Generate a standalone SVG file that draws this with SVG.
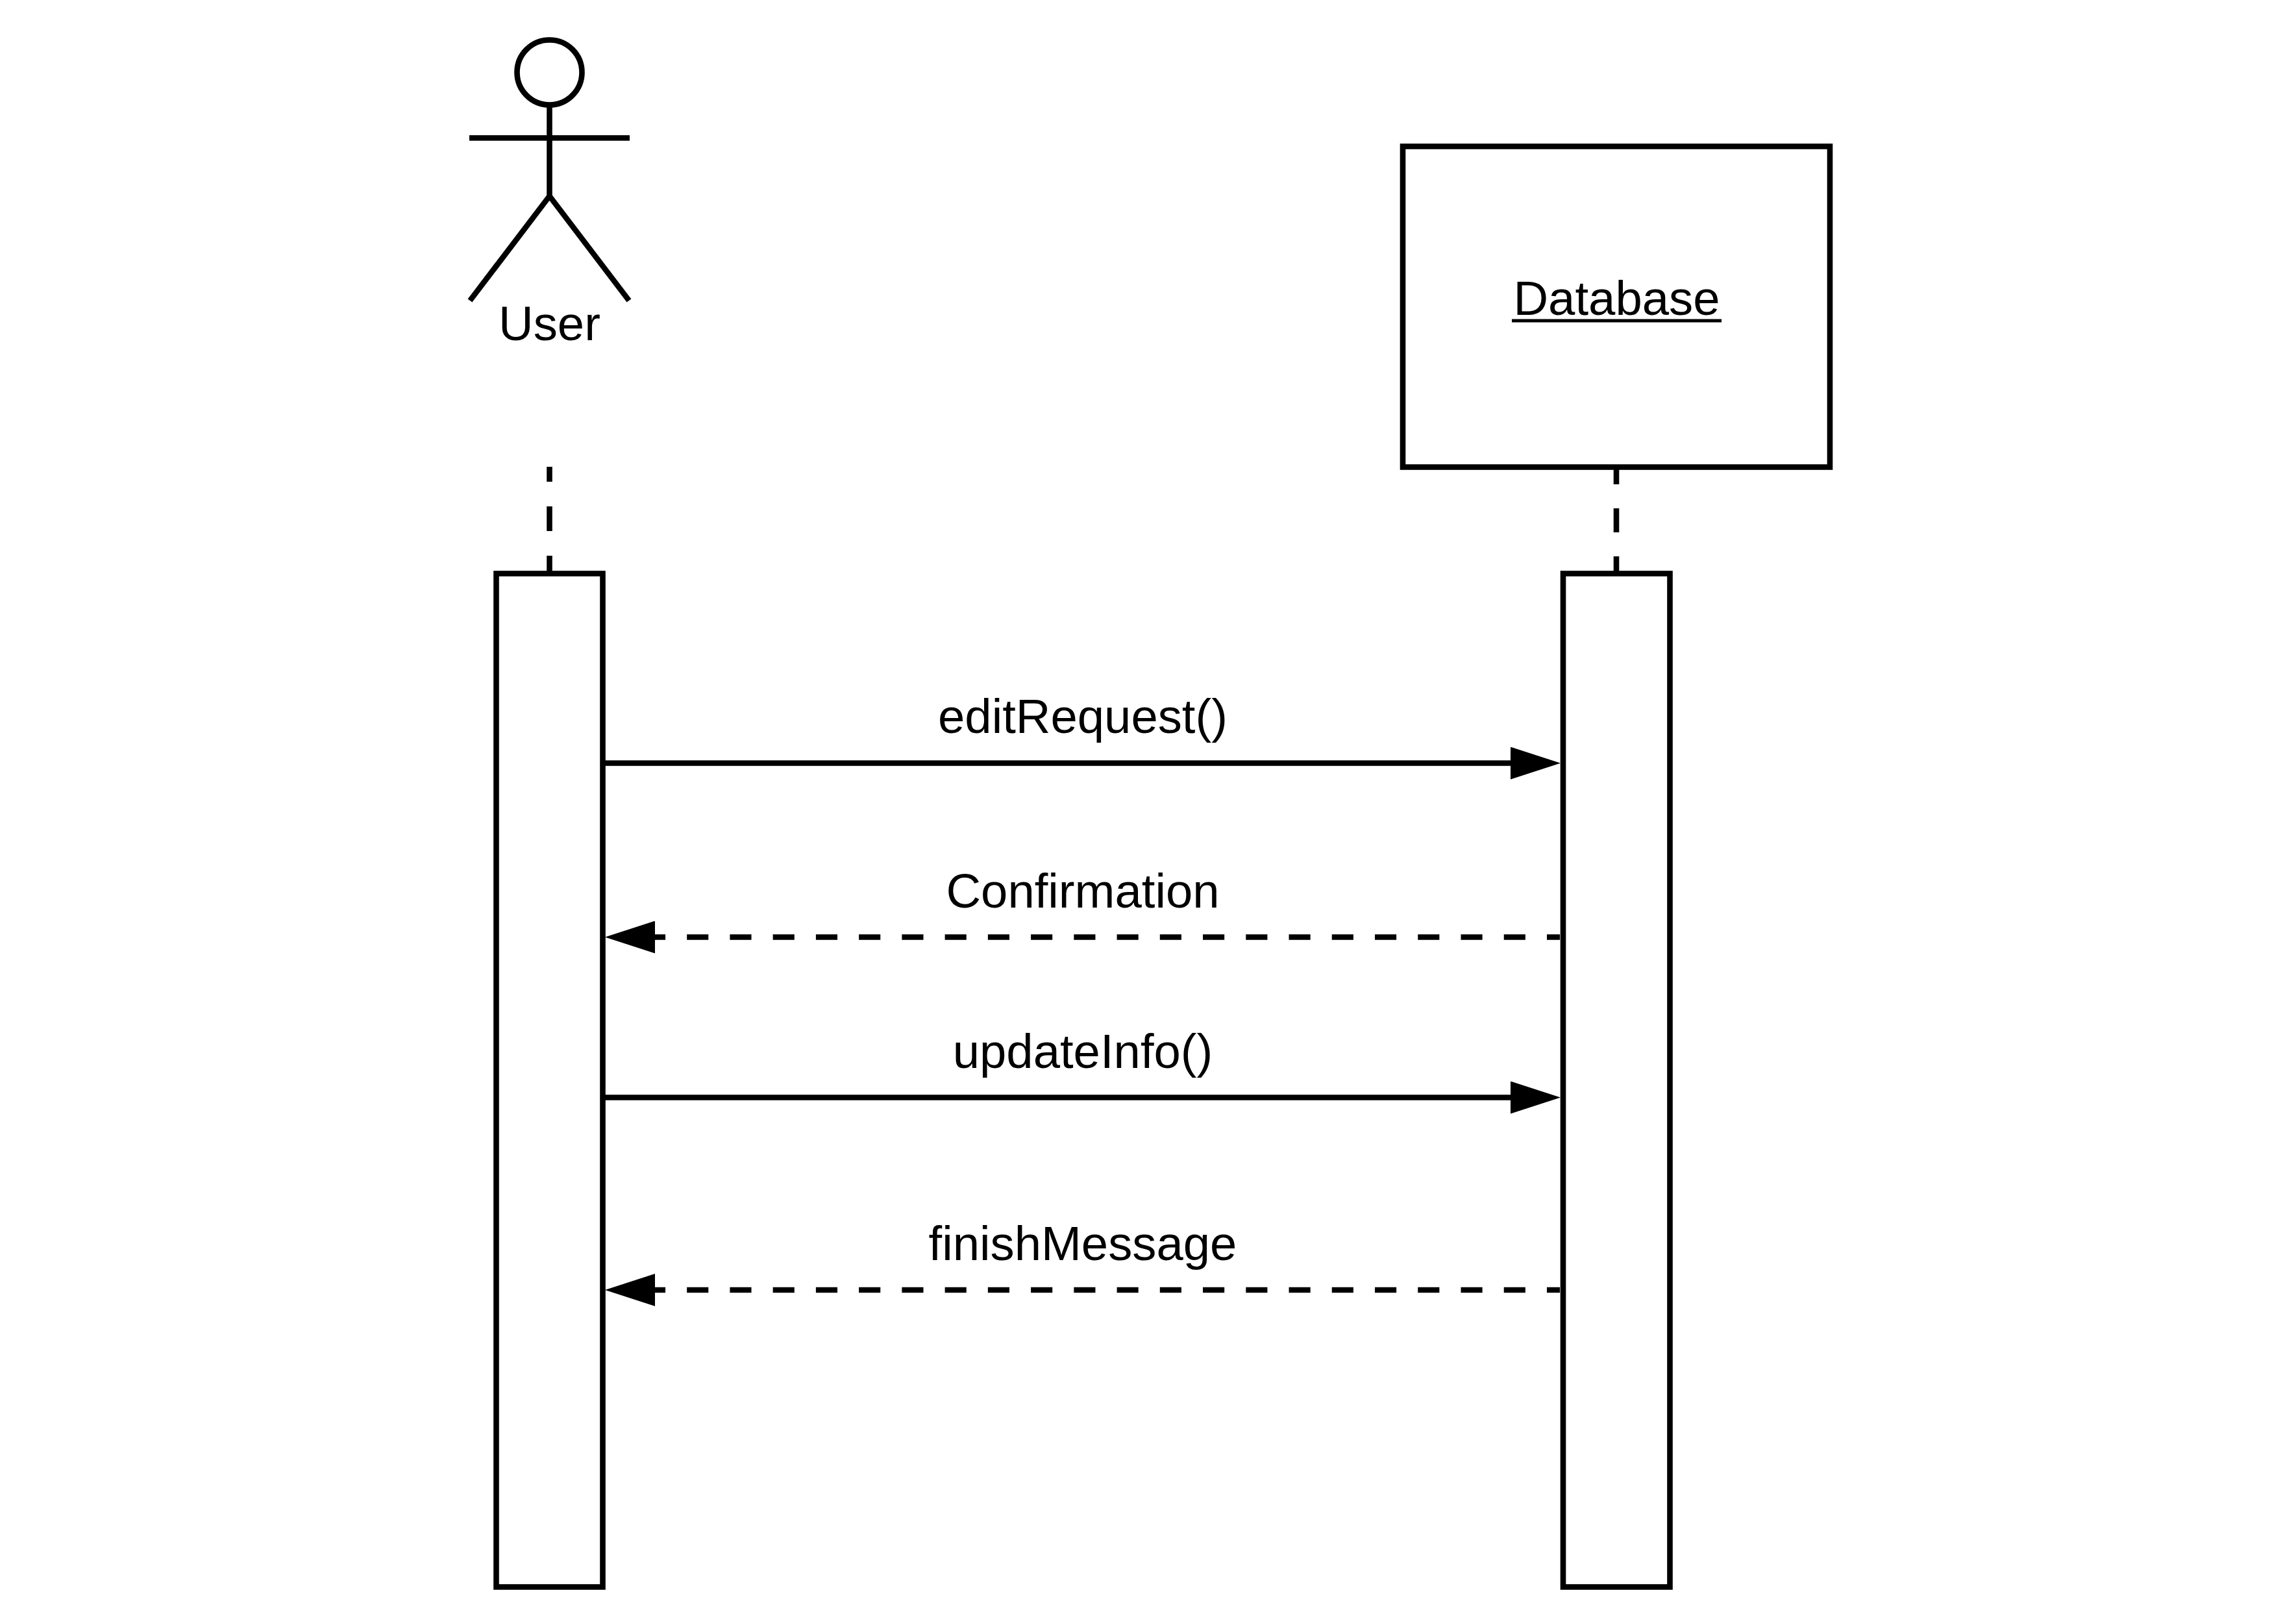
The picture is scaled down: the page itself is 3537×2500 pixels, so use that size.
<svg xmlns="http://www.w3.org/2000/svg" width="3537" height="2500" viewBox="0 0 3537 2500">
<defs>
<style>
.s{fill:none;stroke:#000;stroke-width:8.6}
.b{fill:#fff;stroke:#000;stroke-width:8.6}
.d{stroke-dasharray:33.12 33.12;stroke-dashoffset:13.1}
text{font-family:"Liberation Sans",Arial,sans-serif;font-size:74.3px;fill:#000;text-anchor:middle}
</style>
<marker id="ah" markerUnits="userSpaceOnUse" markerWidth="77" markerHeight="50" refX="0" refY="25" orient="auto"><path d="M0 0L77 25L0 50Z" fill="#000"/></marker>
</defs>
<rect width="3537" height="2500" fill="#fff"/>
<g id="connectors">
<path class="s" style="stroke-dasharray:38 38;stroke-dashoffset:15" d="M846.5 719V880"/>
<path class="s" style="stroke-dasharray:37 37;stroke-dashoffset:11" d="M2490 720V880"/>
<path class="s" marker-end="url(#ah)" d="M932 1175.500H2327"/>
<path class="s d" marker-end="url(#ah)" d="M2403 1443.500H1009"/>
<path class="s" marker-end="url(#ah)" d="M932 1690.500H2327"/>
<path class="s d" marker-end="url(#ah)" d="M2403 1987H1009"/>
<text x="1668" y="1129">editRequest()</text>
<text x="1668" y="1398">Confirmation</text>
<text x="1668" y="1645">updateInfo()</text>
<text x="1668" y="1941">finishMessage</text>
</g>
<g id="user">
<circle class="s" cx="846.5" cy="111.5" r="50"/>
<path class="s" d="M846.5 161.500V302M723 212.500H970M724 463L846.5 302L969 463"/>
<text x="846.5" y="524">User</text>
</g>
<g id="database">
<rect class="b" x="2161" y="225.500" width="658" height="494"/>
<text x="2490.500" y="485">Database</text>
<path d="M2329 494H2652" stroke="#000" stroke-width="5" fill="none"/>
</g>
<g id="user-activation"><rect class="b" x="764.500" y="883.500" width="164" height="1561"/></g>
<g id="database-activation"><rect class="b" x="2408" y="883.500" width="164.500" height="1561"/></g>
</svg>
